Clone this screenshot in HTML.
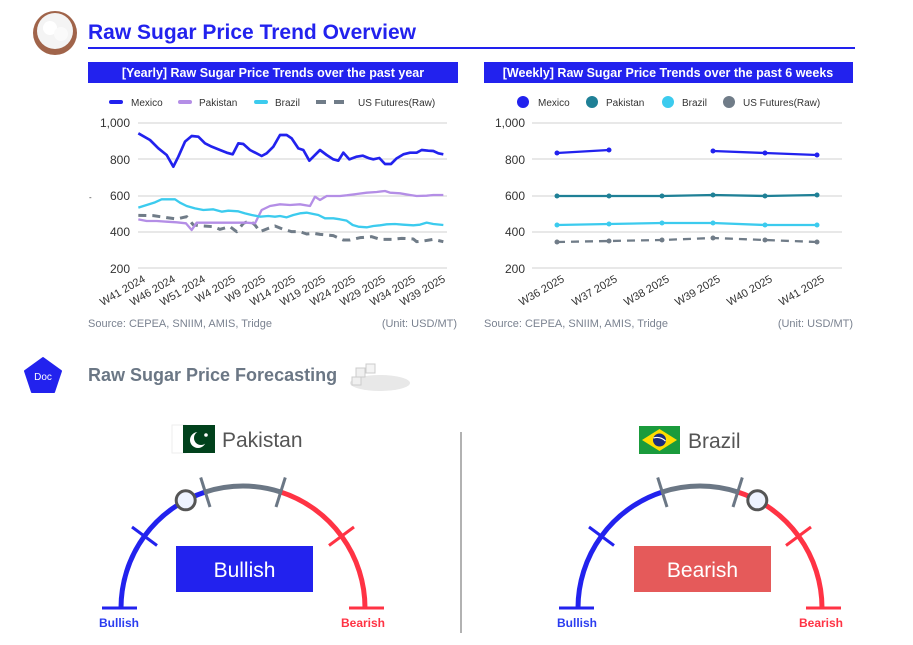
<!DOCTYPE html>
<html><head><meta charset="utf-8"><style>
body{margin:0;background:#fff;font-family:"Liberation Sans",sans-serif;}
svg text{font-family:"Liberation Sans",sans-serif;}
</style></head><body>
<svg width="913" height="640" viewBox="0 0 913 640" xmlns="http://www.w3.org/2000/svg">
<!-- header -->
<circle cx="55" cy="33" r="22" fill="#a0644a"/>
<circle cx="55" cy="31" r="18" fill="#f4f4f4"/>
<circle cx="50" cy="28" r="7" fill="#fff"/><circle cx="61" cy="34" r="7" fill="#fafafa"/>
<text x="88" y="39" font-size="21" font-weight="bold" fill="#2222ee">Raw Sugar Price Trend Overview</text>
<rect x="88" y="47" width="767" height="2" fill="#2222ee"/>
<rect x="88" y="62" width="370" height="21" fill="#2222ee"/>
<text x="273" y="77" font-size="12.5" font-weight="bold" fill="#fff" text-anchor="middle">[Yearly] Raw Sugar Price Trends over the past year</text>
<rect x="484" y="62" width="369" height="21" fill="#2222ee"/>
<text x="668" y="77" font-size="12.5" font-weight="bold" fill="#fff" text-anchor="middle">[Weekly] Raw Sugar Price Trends over the past 6 weeks</text>

<!-- yearly legend -->
<g font-size="10" fill="#333">
<rect x="109" y="100" width="14" height="4" rx="2" fill="#2222ee"/><text x="131" y="106">Mexico</text>
<rect x="178" y="100" width="14" height="4" rx="2" fill="#b48ee6"/><text x="199" y="106">Pakistan</text>
<rect x="254" y="100" width="14" height="4" rx="2" fill="#3ccbee"/><text x="275" y="106">Brazil</text>
<line x1="316" y1="102" x2="350" y2="102" stroke="#707c88" stroke-width="4" stroke-dasharray="10,8"/><text x="358" y="106">US Futures(Raw)</text>
</g>
<g stroke="#d0d0d0" stroke-width="1">
<line x1="138" y1="123" x2="447" y2="123"/><line x1="138" y1="159" x2="447" y2="159"/><line x1="138" y1="196" x2="447" y2="196"/><line x1="138" y1="232" x2="447" y2="232"/><line x1="138" y1="268" x2="447" y2="268"/>
</g>
<g font-size="12" fill="#333" text-anchor="end">
<text x="130" y="127">1,000</text><text x="130" y="164">800</text><text x="130" y="200">600</text><text x="130" y="236">400</text><text x="130" y="273">200</text>
</g>
<text x="89" y="200" font-size="8" fill="#333">-</text>
<g transform="translate(80,90) scale(0.33333)" fill="none" stroke-linejoin="round">
<polyline stroke="#707c88" stroke-width="9" stroke-dasharray="24,18" points="175,376 220,377 260,383 290,387 320,380 340,405 370,408 400,410 420,418 450,410 470,425 490,400 510,392 525,405 540,425 565,415 585,408 610,418 635,425 660,425 680,432 700,430 720,433 760,437 790,450 810,450 840,443 875,440 900,448 935,448 965,445 1000,447 1010,455 1030,453 1060,448 1090,455"/>
<polyline stroke="#b48ee6" stroke-width="7" points="175,388 200,393 230,393 260,395 290,397 318,400 335,420 350,398 380,398 420,398 460,398 500,398 525,400 545,360 570,348 600,343 630,345 660,343 690,348 705,320 720,330 740,318 780,318 800,316 830,312 860,308 890,306 915,303 930,308 960,310 990,315 1010,318 1040,317 1060,315 1090,315"/>
<polyline stroke="#3ccbee" stroke-width="7" points="175,353 200,345 225,337 245,328 285,328 300,338 320,348 345,355 370,360 400,358 425,365 445,362 475,364 495,370 515,375 540,380 565,378 585,380 600,378 620,382 640,375 660,370 680,368 700,372 715,375 735,385 760,385 780,388 800,392 818,405 835,410 860,412 880,408 900,406 920,403 945,402 970,404 1000,406 1020,404 1040,398 1060,402 1090,405"/>
<polyline stroke="#2222ee" stroke-width="8" points="175,130 210,150 235,175 260,195 280,230 295,200 315,155 335,138 355,140 375,160 395,170 420,180 440,188 458,193 475,160 490,162 510,180 545,198 560,190 580,170 600,135 620,135 635,145 655,175 670,180 688,212 700,200 720,180 740,195 760,208 775,212 790,188 808,208 830,200 848,197 868,205 880,208 898,204 915,222 933,222 950,205 970,193 990,188 1010,188 1025,180 1045,182 1060,183 1075,190 1090,193"/>
</g>
<g font-size="11" fill="#333" text-anchor="end">
<text transform="translate(146,281) rotate(-30)">W41 2024</text>
<text transform="translate(176,281) rotate(-30)">W46 2024</text>
<text transform="translate(206,281) rotate(-30)">W51 2024</text>
<text transform="translate(236,281) rotate(-30)">W4 2025</text>
<text transform="translate(266,281) rotate(-30)">W9 2025</text>
<text transform="translate(296,281) rotate(-30)">W14 2025</text>
<text transform="translate(326,281) rotate(-30)">W19 2025</text>
<text transform="translate(356,281) rotate(-30)">W24 2025</text>
<text transform="translate(386,281) rotate(-30)">W29 2025</text>
<text transform="translate(416,281) rotate(-30)">W34 2025</text>
<text transform="translate(446,281) rotate(-30)">W39 2025</text>
</g>
<text x="88" y="327" font-size="11" fill="#7a8290">Source: CEPEA, SNIIM, AMIS, Tridge</text>
<text x="457" y="327" font-size="11" fill="#7a8290" text-anchor="end">(Unit: USD/MT)</text>

<!-- weekly legend -->
<g font-size="10" fill="#333">
<circle cx="523" cy="102" r="6" fill="#2222ee"/><text x="538" y="106">Mexico</text>
<circle cx="592" cy="102" r="6" fill="#1f8096"/><text x="606" y="106">Pakistan</text>
<circle cx="668" cy="102" r="6" fill="#3ccbee"/><text x="682" y="106">Brazil</text>
<circle cx="729" cy="102" r="6" fill="#707c88"/><text x="743" y="106">US Futures(Raw)</text>
</g>
<g stroke="#d0d0d0" stroke-width="1">
<line x1="532" y1="123" x2="842" y2="123"/><line x1="532" y1="159" x2="842" y2="159"/><line x1="532" y1="196" x2="842" y2="196"/><line x1="532" y1="232" x2="842" y2="232"/><line x1="532" y1="268" x2="842" y2="268"/>
</g>
<g font-size="12" fill="#333" text-anchor="end">
<text x="525" y="127">1,000</text><text x="525" y="164">800</text><text x="525" y="200">600</text><text x="525" y="236">400</text><text x="525" y="273">200</text>
</g>
<g fill="none" stroke-width="2.3">
<polyline stroke="#707c88" stroke-dasharray="8,6" points="557,242 609,241 662,240 713,238 765,240 817,242"/>
<polyline stroke="#3ccbee" points="557,225 609,224 662,223 713,223 765,225 817,225"/>
<polyline stroke="#1f8096" points="557,196 609,196 662,196 713,195 765,196 817,195"/>
<polyline stroke="#2222ee" points="557,153 609,150"/>
<polyline stroke="#2222ee" points="713,151 765,153 817,155"/>
</g>
<g fill="#707c88"><circle cx="557" cy="242" r="2.5"/><circle cx="609" cy="241" r="2.5"/><circle cx="662" cy="240" r="2.5"/><circle cx="713" cy="238" r="2.5"/><circle cx="765" cy="240" r="2.5"/><circle cx="817" cy="242" r="2.5"/></g>
<g fill="#3ccbee"><circle cx="557" cy="225" r="2.5"/><circle cx="609" cy="224" r="2.5"/><circle cx="662" cy="223" r="2.5"/><circle cx="713" cy="223" r="2.5"/><circle cx="765" cy="225" r="2.5"/><circle cx="817" cy="225" r="2.5"/></g>
<g fill="#1f8096"><circle cx="557" cy="196" r="2.5"/><circle cx="609" cy="196" r="2.5"/><circle cx="662" cy="196" r="2.5"/><circle cx="713" cy="195" r="2.5"/><circle cx="765" cy="196" r="2.5"/><circle cx="817" cy="195" r="2.5"/></g>
<g fill="#2222ee"><circle cx="557" cy="153" r="2.5"/><circle cx="609" cy="150" r="2.5"/><circle cx="713" cy="151" r="2.5"/><circle cx="765" cy="153" r="2.5"/><circle cx="817" cy="155" r="2.5"/></g>
<g font-size="11" fill="#333" text-anchor="end">
<text transform="translate(565,281) rotate(-30)">W36 2025</text>
<text transform="translate(618,281) rotate(-30)">W37 2025</text>
<text transform="translate(670,281) rotate(-30)">W38 2025</text>
<text transform="translate(721,281) rotate(-30)">W39 2025</text>
<text transform="translate(773,281) rotate(-30)">W40 2025</text>
<text transform="translate(825,281) rotate(-30)">W41 2025</text>
</g>
<text x="484" y="327" font-size="11" fill="#7a8290">Source: CEPEA, SNIIM, AMIS, Tridge</text>
<text x="853" y="327" font-size="11" fill="#7a8290" text-anchor="end">(Unit: USD/MT)</text>

<!-- forecasting header -->
<polygon points="43,358 61,371 54,392 32,392 25,371" fill="#2222ee" stroke="#2222ee" stroke-width="2" stroke-linejoin="round"/>
<text x="43" y="380" font-size="10" fill="#fff" text-anchor="middle">Doc</text>
<text x="88" y="381" font-size="18" font-weight="bold" fill="#6b7785">Raw Sugar Price Forecasting</text>
<ellipse cx="380" cy="383" rx="30" ry="8" fill="#e8e8e8"/>
<rect x="356" y="368" width="9" height="9" fill="#f0f0f0" stroke="#ccc"/><rect x="366" y="364" width="9" height="9" fill="#f4f4f4" stroke="#ccc"/><rect x="352" y="377" width="9" height="8" fill="#f0f0f0" stroke="#ccc"/>

<line x1="461" y1="432" x2="461" y2="633" stroke="#999" stroke-width="1.5"/>

<!-- Pakistan -->
<rect x="172" y="425" width="14" height="28" fill="#fff" stroke="#eee"/>
<rect x="183" y="425" width="32" height="28" fill="#01411c"/>
<circle cx="198" cy="440" r="8" fill="#fff"/><circle cx="201" cy="438" r="7" fill="#01411c"/><circle cx="206" cy="435" r="1.8" fill="#fff"/>
<text x="222" y="447" font-size="21" fill="#555">Pakistan</text>
<g transform="translate(243,608)" fill="none">
<path d="M-122,0 A122,122 0 0 1 -37.7,-116" stroke="#2222ee" stroke-width="5"/>
<path d="M-37.7,-116 A122,122 0 0 1 37.7,-116" stroke="#6b7785" stroke-width="5"/>
<path d="M37.7,-116 A122,122 0 0 1 122,0" stroke="#ff3344" stroke-width="5"/>
<line x1="-86" y1="-62.5" x2="-111" y2="-81" stroke="#2222ee" stroke-width="3"/>
<line x1="-33" y1="-101" x2="-42.3" y2="-130.5" stroke="#6b7785" stroke-width="3"/>
<line x1="33" y1="-101" x2="42.3" y2="-130.5" stroke="#6b7785" stroke-width="3"/>
<line x1="86" y1="-62.5" x2="111" y2="-81" stroke="#ff3344" stroke-width="3"/>
<line x1="-141" y1="0" x2="-106" y2="0" stroke="#2222ee" stroke-width="3"/>
<line x1="106" y1="0" x2="141" y2="0" stroke="#ff3344" stroke-width="3"/>
<circle cx="-57.3" cy="-107.7" r="9.5" fill="#eef3ff" stroke="#555" stroke-width="3"/>
</g>
<rect x="176" y="546" width="137" height="46" fill="#2222ee"/>
<text x="244.5" y="577" font-size="21" fill="#fff" text-anchor="middle">Bullish</text>
<text x="119" y="627" font-size="12" font-weight="bold" fill="#2a3cf0" text-anchor="middle">Bullish</text>
<text x="363" y="627" font-size="12" font-weight="bold" fill="#ff3344" text-anchor="middle">Bearish</text>

<!-- Brazil -->
<rect x="639" y="426" width="41" height="28" fill="#1a9b3c"/>
<polygon points="659.5,429 677,440 659.5,451 642,440" fill="#fedd00"/>
<circle cx="659.5" cy="440" r="6.5" fill="#1c2c7c"/>
<path d="M653.5,438 Q660,436 665.5,441" stroke="#fff" stroke-width="1.2" fill="none"/>
<text x="688" y="448" font-size="21" fill="#555">Brazil</text>
<g transform="translate(700,608)" fill="none">
<path d="M-122,0 A122,122 0 0 1 -37.7,-116" stroke="#2222ee" stroke-width="5"/>
<path d="M-37.7,-116 A122,122 0 0 1 37.7,-116" stroke="#6b7785" stroke-width="5"/>
<path d="M37.7,-116 A122,122 0 0 1 122,0" stroke="#ff3344" stroke-width="5"/>
<line x1="-86" y1="-62.5" x2="-111" y2="-81" stroke="#2222ee" stroke-width="3"/>
<line x1="-33" y1="-101" x2="-42.3" y2="-130.5" stroke="#6b7785" stroke-width="3"/>
<line x1="33" y1="-101" x2="42.3" y2="-130.5" stroke="#6b7785" stroke-width="3"/>
<line x1="86" y1="-62.5" x2="111" y2="-81" stroke="#ff3344" stroke-width="3"/>
<line x1="-141" y1="0" x2="-106" y2="0" stroke="#2222ee" stroke-width="3"/>
<line x1="106" y1="0" x2="141" y2="0" stroke="#ff3344" stroke-width="3"/>
<circle cx="57.3" cy="-107.7" r="9.5" fill="#eef3ff" stroke="#555" stroke-width="3"/>
</g>
<rect x="634" y="546" width="137" height="46" fill="#e55a5a"/>
<text x="702.5" y="577" font-size="21" fill="#fff" text-anchor="middle">Bearish</text>
<text x="577" y="627" font-size="12" font-weight="bold" fill="#2a3cf0" text-anchor="middle">Bullish</text>
<text x="821" y="627" font-size="12" font-weight="bold" fill="#ff3344" text-anchor="middle">Bearish</text>
</svg>
</body></html>
